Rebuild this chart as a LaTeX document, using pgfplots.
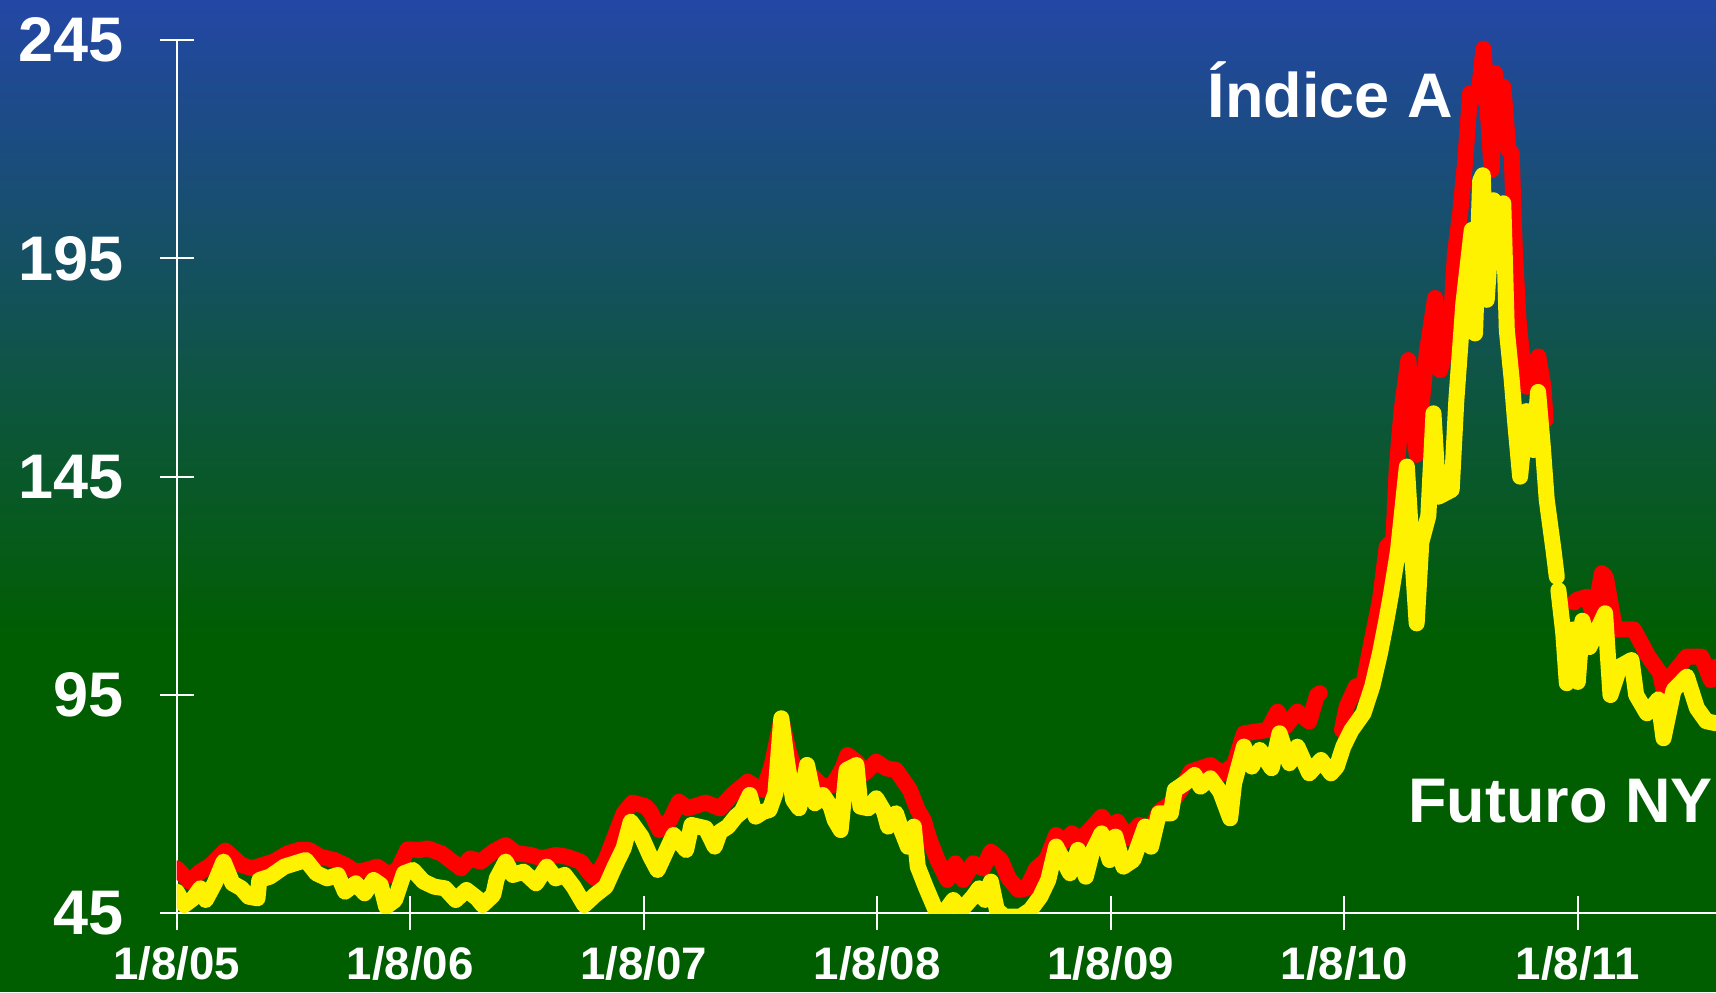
\documentclass[border=0pt]{standalone}
\usepackage{pgfplots}
\pgfplotsset{compat=1.18}
\usepackage{fontspec}
\setmainfont{Liberation Sans}
\definecolor{topblue}{RGB}{35,71,165}
\definecolor{bggreen}{RGB}{0,94,0}
\begin{document}
\begin{tikzpicture}[x=1pt,y=1pt]
\shade[top color=topblue, bottom color=bggreen] (0,175) rectangle (858,496);
\fill[bggreen] (0,0) rectangle (858,175.5);
\begin{axis}[
  at={(88.35pt,39.35pt)}, anchor=south west,
  scale only axis, width=769.65pt, height=436.65pt,
  xmin=0, xmax=6.592, ymin=45, ymax=245,
  axis lines=left, axis line style={-, draw=white, line width=1pt},
  tick style={draw=white, line width=1pt},
  tick align=center, major tick length=17pt,
  xtick={0,1,2,3,4,5,6},
  xticklabels={1/8/05,1/8/06,1/8/07,1/8/08,1/8/09,1/8/10,1/8/11},
  ytick={45,95,145,195,245},
  yticklabels={45,95,145,195,245},
  yticklabel style={anchor=east, inner sep=0pt, xshift=-18pt, text=white, font=\bfseries\fontsize{31.5}{36}\selectfont},
  xticklabel style={anchor=north, inner sep=0pt, yshift=-8pt, text=white, font=\bfseries\fontsize{22.8}{27}\selectfont},
  clip=true,
]
% Indice A (red)
\addplot[red, line width=8pt, line join=round, line cap=round] coordinates {
(0.000,55.30)(0.0554,52.25)(0.1013,54.54)(0.1472,56.07)(0.2084,59.35)(0.2543,57.21)(0.2772,56.07)(0.3231,55.30)
(0.3690,56.07)(0.4149,56.83)(0.4760,58.74)(0.5219,59.50)(0.5678,59.50)(0.6137,57.98)(0.6749,57.21)(0.7208,56.07)
(0.7666,54.54)(0.8126,54.92)(0.8584,55.69)(0.9119,53.78)(0.9502,55.30)(0.9884,59.66)(1.0420,59.50)(1.0725,59.89)
(1.1337,58.74)(1.1796,56.83)(1.2179,55.30)(1.2561,57.59)(1.3020,56.83)(1.3555,59.12)(1.4090,60.65)(1.4549,58.74)
(1.5161,58.36)(1.5620,57.59)(1.6231,58.36)(1.6690,57.98)(1.7302,56.83)(1.7685,54.16)(1.7914,53.01)(1.8373,57.21)
(1.8756,62.56)(1.9138,67.90)(1.9520,70.35)(2.0056,69.58)(2.0285,68.28)(2.0668,64.08)(2.1127,66.37)(2.1509,70.57)
(2.1891,69.05)(2.2656,70.35)(2.3268,69.05)(2.3776,72.10)(2.4452,75.15)(2.4791,74.01)(2.5130,73.25)(2.5469,78.59)
(2.5892,89.28)(2.6231,81.64)(2.6654,75.54)(2.7162,76.68)(2.7670,74.01)(2.8094,74.39)(2.8517,78.21)(2.8721,81.26)
(2.9110,79.73)(2.9449,77.06)(2.9957,79.73)(3.0380,78.21)(3.0804,77.83)(3.1058,75.92)(3.1396,73.25)(3.1735,68.66)
(3.1989,66.37)(3.2243,61.79)(3.2582,57.21)(3.3005,52.63)(3.3344,56.45)(3.3682,52.63)(3.4106,56.45)(3.4529,55.30)
(3.4868,59.12)(3.5291,57.21)(3.5630,53.01)(3.6053,50.34)(3.6392,50.72)(3.6815,55.30)(3.7238,57.21)(3.7661,62.94)
(3.8000,61.41)(3.8339,63.32)(3.8678,61.79)(3.9101,64.08)(3.9609,67.14)(3.9948,64.85)(4.0287,65.99)(4.0710,62.17)
(4.1218,65.23)(4.1726,64.08)(4.2065,68.28)(4.2573,70.19)(4.2996,73.25)(4.3419,77.44)(4.3843,78.21)(4.4266,78.97)
(4.4774,77.06)(4.5282,78.97)(4.5705,86.22)(4.6213,86.61)(4.6721,86.99)(4.7145,91.19)(4.7483,87.75)(4.7991,91.19)
(4.8500,88.90)(4.8838,95.00)(4.8950,95.40)
};
\addplot[red, line width=8pt, line join=round, line cap=round] coordinates {
(4.990,87.0)(5.010,92.3)(5.050,97.0)(5.075,95.4)(5.096,101.5)(5.124,109.1)(5.153,116.8)(5.182,129.0)
(5.210,130.5)(5.225,147.3)(5.245,160.0)(5.2745,171.7)(5.290,160.0)(5.310,150.0)(5.353,173.3)(5.389,185.9)
(5.410,169.4)(5.453,177.1)(5.474,196.2)(5.496,205.3)(5.517,216.8)(5.539,232.8)(5.574,232.0)(5.596,243.0)
(5.617,226.7)(5.631,215.2)(5.646,237.4)(5.660,221.4)(5.681,234.3)(5.703,219.8)(5.717,219.1)(5.724,206.8)
(5.731,196.2)(5.746,180.9)(5.760,173.3)(5.782,165.6)(5.803,169.4)(5.831,172.5)(5.853,165.6)(5.862,158.0)
};
\addplot[red, line width=8pt, line join=round, line cap=round] coordinates {
(5.984,116.2)(5.996,116.8)(6.040,117.5)(6.070,113.0)(6.103,122.9)(6.120,122.0)(6.160,110.0)(6.240,110.0)
(6.300,104.0)(6.352,100.0)(6.380,93.0)(6.410,100.0)(6.467,103.8)(6.530,103.8)(6.570,98.4)(6.593,101.5)
};
% Futuro NY (yellow)
\addplot[yellow, line width=8pt, line join=round, line cap=round] coordinates {
(0.000,49.96)(0.0325,46.91)(0.0707,48.43)(0.1013,50.72)(0.1242,48.05)(0.1625,51.87)(0.2007,56.83)(0.2389,51.87)
(0.2772,50.72)(0.3078,48.82)(0.3460,48.43)(0.3537,52.63)(0.3996,53.40)(0.4608,55.69)(0.5066,56.45)(0.5525,57.21)
(0.5984,54.16)(0.6443,53.01)(0.6902,53.78)(0.7208,49.96)(0.7666,51.87)(0.8049,49.58)(0.8431,52.63)(0.8737,51.49)
(0.8967,46.53)(0.9349,48.05)(0.9731,54.16)(1.0114,54.92)(1.0572,52.25)(1.1032,51.10)(1.1490,50.72)(1.1949,48.05)
(1.2408,50.34)(1.2867,48.43)(1.3097,46.91)(1.3555,49.20)(1.3708,53.01)(1.4090,56.83)(1.4396,53.78)(1.4855,54.54)
(1.5390,51.87)(1.5849,55.69)(1.6231,53.01)(1.6614,53.78)(1.6996,51.10)(1.7455,46.91)(1.7914,49.20)(1.8373,51.10)
(1.8756,55.69)(1.9138,59.89)(1.9444,65.99)(1.9903,62.56)(2.0285,57.98)(2.0591,54.92)(2.0821,57.59)(2.1280,62.94)
(2.1815,59.50)(2.2044,65.23)(2.2656,64.47)(2.3039,60.27)(2.3268,63.70)(2.3606,64.85)(2.3945,67.14)(2.4199,68.28)
(2.4537,72.10)(2.4791,67.14)(2.5130,68.28)(2.5384,68.66)(2.5638,72.48)(2.5892,89.66)(2.6146,79.35)(2.6400,70.95)
(2.6654,69.05)(2.6993,78.97)(2.7332,70.19)(2.7670,72.10)(2.8009,69.43)(2.8179,66.37)(2.8433,64.08)(2.8687,77.83)
(2.9110,78.97)(2.9280,69.43)(2.9618,69.05)(2.9957,71.34)(3.0296,68.28)(3.0465,64.85)(3.0804,67.90)(3.1058,63.70)
(3.1312,60.27)(3.1566,64.85)(3.1735,55.69)(3.2073,51.10)(3.2497,45.76)(3.2835,45.00)(3.3259,48.05)(3.3598,45.76)
(3.4106,48.82)(3.4360,50.72)(3.4614,48.05)(3.4868,52.25)(3.5122,45.76)(3.5460,44.23)(3.6137,44.23)(3.6561,45.76)
(3.6984,48.82)(3.7323,52.63)(3.7661,60.27)(3.8000,56.83)(3.8254,54.16)(3.8593,59.50)(3.8932,53.40)(3.9186,58.74)
(3.9609,63.32)(3.9948,57.21)(4.0202,62.56)(4.0541,55.69)(4.0964,57.21)(4.1472,64.85)(4.1726,60.27)(4.2065,67.90)
(4.2573,67.90)(4.2742,73.25)(4.3165,74.77)(4.3589,76.68)(4.3843,74.01)(4.4266,75.92)(4.4689,72.86)(4.5113,66.76)
(4.5282,74.77)(4.5705,83.17)(4.6044,78.59)(4.6383,82.41)(4.6891,78.21)(4.7229,86.22)(4.7653,79.35)(4.7991,83.17)
(4.8500,77.06)(4.9007,80.12)(4.9430,77.06)(4.9680,78.60)(4.9960,83.20)(5.0300,86.90)(5.0820,90.80)(5.1200,97.00)
(5.1530,104.6)(5.1800,112.0)(5.2000,118.0)(5.2300,128.0)(5.2680,147.3)(5.2900,128.0)(5.3100,111.4)(5.3300,130.0)
(5.3600,136.0)(5.3820,159.5)(5.4030,140.4)(5.4600,142.0)(5.4800,162.6)(5.5100,184.7)(5.5460,201.5)(5.5600,177.8)
(5.5820,212.8)(5.5930,214.0)(5.6100,185.5)(5.6390,208.3)(5.6600,194.6)(5.6810,207.6)(5.6960,178.6)(5.7170,167.2)
(5.7310,158.0)(5.7530,145.0)(5.7800,160.0)(5.8100,151.1)(5.8300,164.4)(5.8500,152.0)(5.8670,139.7)(5.8960,128.2)
(5.9100,122.1)
};
\addplot[yellow, line width=8pt, line join=round, line cap=round] coordinates {
(5.917,119.0)(5.938,109.1)(5.953,97.7)(5.980,110.0)(6.000,98.0)(6.020,112.0)(6.050,106.0)(6.117,113.7)
(6.140,95.0)(6.180,101.5)(6.230,103.0)(6.250,95.0)(6.296,90.8)(6.345,94.0)(6.367,85.1)(6.410,96.1)
(6.467,99.2)(6.510,92.0)(6.550,89.0)(6.593,88.5)
};
\end{axis}
\node[anchor=base east, inner sep=0pt, text=white, font=\bfseries\fontsize{31.5}{36}\selectfont] at (726.5,437) {Índice A};
\node[anchor=base west, inner sep=0pt, text=white, font=\bfseries\fontsize{31.5}{36}\selectfont] at (704,85) {Futuro NY};
\pgfresetboundingbox
\useasboundingbox (0,0) rectangle (858,496);
\end{tikzpicture}
\end{document}
